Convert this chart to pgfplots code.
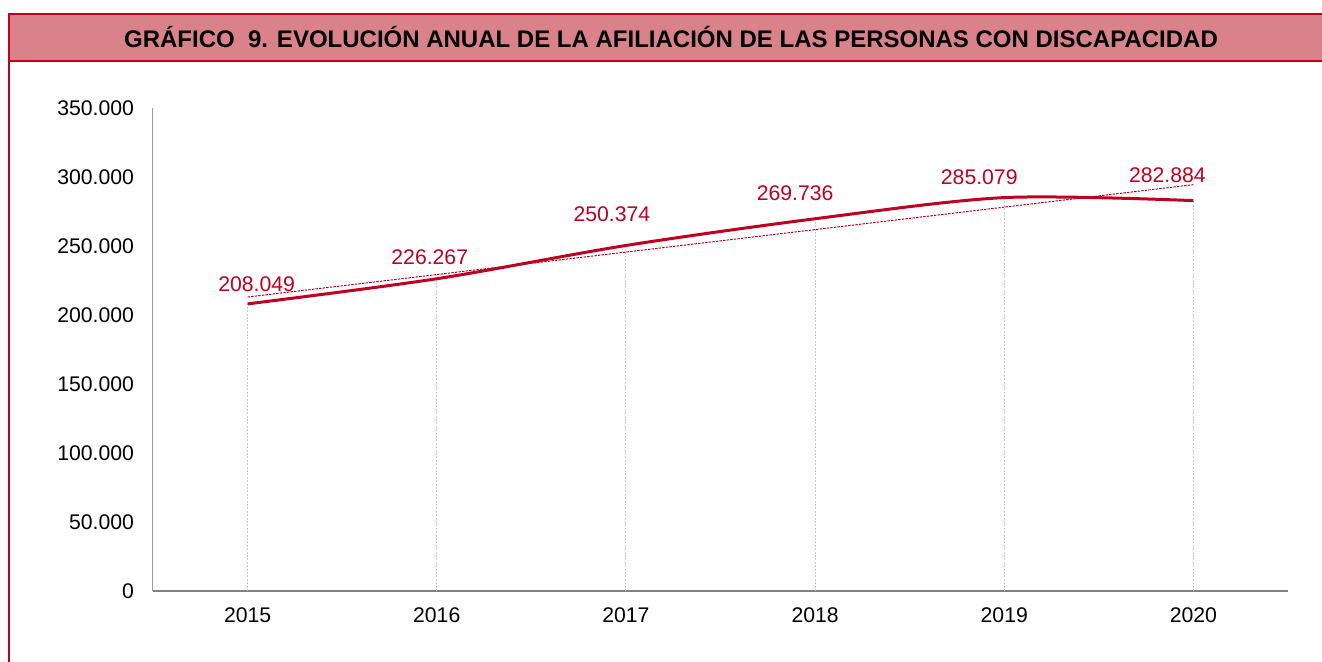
\documentclass[border=0pt]{standalone}
\usepackage{fontspec}
\setmainfont{Liberation Sans}
\usepackage{pgfplots}
\usepackage{pgfplotstable}
\pgfplotsset{compat=1.18}
\definecolor{band}{RGB}{217,130,137}
\definecolor{frame}{RGB}{192,0,32}
\definecolor{serie}{RGB}{192,0,32}
\definecolor{axgray}{RGB}{128,128,128}
\definecolor{dropgray}{RGB}{200,200,200}
\tikzset{lbl/.style={text=serie, inner sep=0pt, anchor=center, font=\fontsize{10.6}{12}\selectfont}}

\pgfplotstableread{
x y
0 208049
1 226267
2 250374
3 269736
4 285079
5 282884
}\datatable

\pgfplotstableread{
x y
0 213019
5 294444
}\trendtable

\begin{document}
\begin{tikzpicture}
\path[use as bounding box] (0pt,0pt) rectangle (661pt,331pt);
% title band
\fill[band] (4.5pt,300.5pt) rectangle (661pt,324pt);
\draw[frame, line width=1pt] (661pt,324pt) -- (4.5pt,324pt) -- (4.5pt,0pt);
\draw[frame, line width=1pt] (4.5pt,300.5pt) -- (661pt,300.5pt);
\node[font=\bfseries\fontsize{12}{14}\selectfont, inner sep=0pt] at (335.5pt,312.5pt)
  {GRÁFICO\ \ 9. EVOLUCIÓN ANUAL DE LA AFILIACIÓN DE LAS PERSONAS CON DISCAPACIDAD};
\begin{axis}[
  at={(76.5pt,35.5pt)}, anchor=south west,
  scale only axis,
  width=567.5pt, height=241.5pt,
  xmin=-0.5, xmax=5.5, ymin=0, ymax=350000,
  scaled y ticks=false,
  axis x line*=bottom, axis y line*=left,
  x axis line style={axgray, line width=1pt, -},
  y axis line style={axgray!120!black, line width=0.5pt, -},
  xtick={0,1,2,3,4,5},
  xticklabels={2015,2016,2017,2018,2019,2020},
  ytick={0,50000,100000,150000,200000,250000,300000,350000},
  yticklabels={0,50.000,100.000,150.000,200.000,250.000,300.000,350.000},
  major tick length=0pt,
  tick style={draw=none},
  ticklabel style={font=\fontsize{10.6}{12}\selectfont, text=black},
  yticklabel style={xshift=-6pt},
  xticklabel style={yshift=-5pt},
  clip=false,
]
\addplot[ycomb, dropgray, line width=0.5pt, dash pattern=on 1pt off 0.7pt, no marks] table[x=x,y=y] {\datatable};
\addplot[serie, line width=0.5pt, dash pattern=on 1.2pt off 0.6pt, no marks] table[x=x,y=y] {\trendtable};
\addplot[serie, line width=1.5pt, smooth, no marks] table[x=x,y=y] {\datatable};
\node[lbl, xshift=4.5pt, yshift=10pt] at (axis cs:0,208049) {208.049};
\node[lbl, xshift=-3.5pt, yshift=11pt] at (axis cs:1,226267) {226.267};
\node[lbl, xshift=-7pt, yshift=15.75pt] at (axis cs:2,250374) {250.374};
\node[lbl, xshift=-10pt, yshift=13pt] at (axis cs:3,269736) {269.736};
\node[lbl, xshift=-12.5pt, yshift=10.3pt] at (axis cs:4,285079) {285.079};
\node[lbl, xshift=-13pt, yshift=12.8pt] at (axis cs:5,282884) {282.884};
\end{axis}
\end{tikzpicture}
\end{document}
